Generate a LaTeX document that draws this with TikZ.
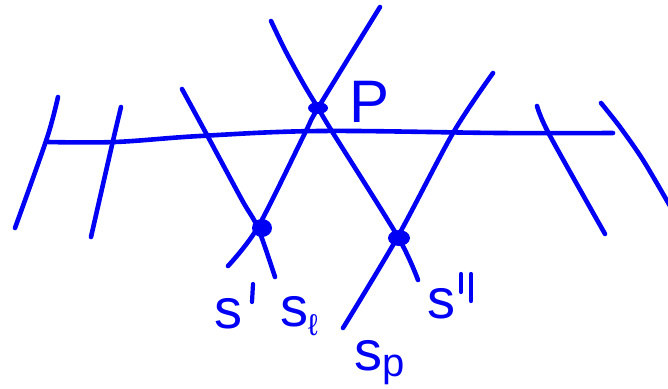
\documentclass[tikz,border=0pt]{standalone}
\usepackage{fontspec}
\setmainfont{Liberation Sans}
\begin{document}
\begin{tikzpicture}[x=1pt,y=-1pt,
  pen/.style={draw=inkblue,line width=4.6pt,line cap=round,line join=round},
  dotmark/.style={fill=inkblue},
  lbl/.style={text=inkblue,inner sep=0pt,font=\fontsize{56}{56}\selectfont}]
\definecolor{inkblue}{RGB}{0,0,245}
\useasboundingbox (0,0) rectangle (668,388);
% horizontal line
\draw[pen] plot[smooth,tension=0.6] coordinates {(48,142) (115,142) (200,136) (320,131) (500,133) (613,133)};
% left ticks
\draw[pen] plot[smooth] coordinates {(58,97) (47,138) (15,228)};
\draw[pen] plot[smooth] coordinates {(121,107) (112,145) (91,237)};
% right ticks
\draw[pen] plot[smooth] coordinates {(537,106) (549,134) (605,234)};
\draw[pen] plot[smooth] coordinates {(601,103) (620,127) (643,160) (670,206)};
% crossing lines
\draw[pen] plot[smooth,tension=0.5] coordinates {(182,89) (207,135) (242,200) (258,228) (275,277)};
\draw[pen] plot[smooth,tension=0.5] coordinates {(228,266) (258,227) (305,133) (318,108) (380,7)};
\draw[pen] plot[smooth,tension=0.5] coordinates {(271,21) (285,50) (303,83) (318,108) (333,133) (398,237) (418,280)};
\draw[pen] plot[smooth,tension=0.5] coordinates {(343,328) (397,238) (453,133) (493,73)};
% points
\coordinate (P) at (318,108);
\coordinate (S1) at (262,228);
\coordinate (S2) at (399,238);
\fill[dotmark] (P) ellipse [x radius=10,y radius=6];
\fill[dotmark] (S1) ellipse [x radius=10,y radius=9];
\fill[dotmark] (S2) ellipse [x radius=11,y radius=8];
% labels
\node[lbl,font=\fontsize{60}{60}\selectfont] (lP) at (370,102) {P};
\node[lbl] (ls1) at (228,314) {s};
\draw[pen,line width=4.2pt] (253,284) -- (252,302);
\node[lbl,anchor=base west] (lsl) at (280,326) {s\raisebox{-9pt}{\fontsize{30}{30}\selectfont ℓ}};
\node[lbl,anchor=base west] (lsp) at (354,370) {s\raisebox{-6pt}{\fontsize{40}{40}\selectfont p}};
\node[lbl] (ls2) at (441,304) {s};
\draw[pen,line width=4.2pt] (461,274) -- (461,292);
\draw[pen,line width=4.2pt] (471,274) -- (471,301);
\end{tikzpicture}
\end{document}
